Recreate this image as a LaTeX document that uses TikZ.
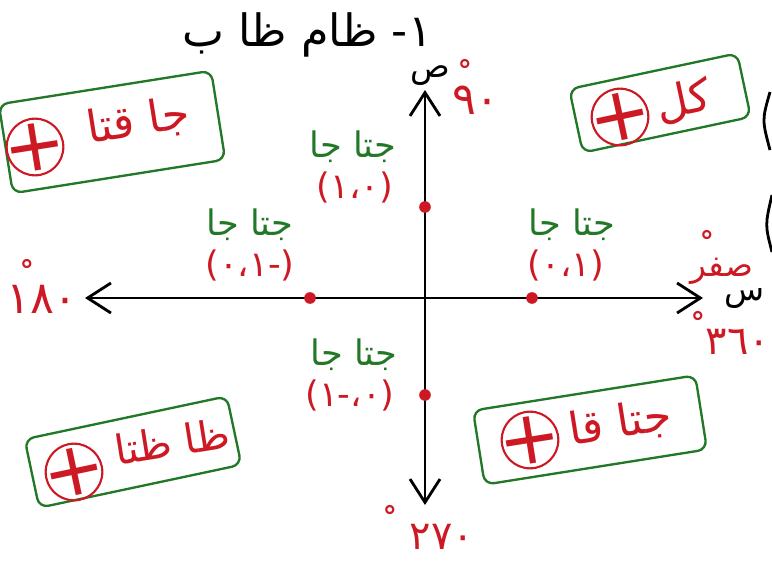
\documentclass[tikz,border=0pt]{standalone}
\usepackage{fontspec}
\newfontfamily\arabicfont[Script=Arabic]{DejaVu Sans}
\newfontfamily\numfont{DejaVu Sans}
\TeXXeTstate=1
\usetikzlibrary{arrows.meta,positioning}
\definecolor{markgreen}{RGB}{35,120,40}
\definecolor{markred}{RGB}{205,25,35}
\newcommand\gap{\kern0pt}
\newcommand\artext[1]{\beginR #1\endR}

\begin{document}
\begin{tikzpicture}[
    x=0.03cm, y=-0.03cm,
    axis/.style={line width=2.4pt, {Straight Barb[length=7mm,width=9mm]}-{Straight Barb[length=7mm,width=9mm]}},
    pt/.style={circle, fill=markred, inner sep=0pt, minimum size=3.5mm},
    fname/.style={text=markgreen, font=\arabicfont\fontsize{30}{34}\selectfont},
    pairval/.style={text=markred, font=\numfont\fontsize{30}{34}\selectfont},
    angle/.style={text=markred, font=\numfont\fontsize{38}{42}\selectfont},
    deg/.style={text=markred, inner sep=0pt, font=\numfont\bfseries\fontsize{24}{24}\selectfont},
    axname/.style={font=\arabicfont\fontsize{28}{32}\selectfont},
    quadbox/.style={draw=markgreen, line width=2pt, rounded corners=8pt},
    signtext/.style={text=markred, font=\arabicfont\fontsize{38}{42}\selectfont},
    plusmark/.style={circle, draw=markred, line width=1.8pt, inner sep=0pt, minimum size=1.7cm},
    plusglyph/.style={text=markred, inner sep=0pt, font=\numfont\fontsize{64}{64}\selectfont},
]
    \useasboundingbox (0,0) rectangle (772,563);

    % title
    \node[font=\arabicfont\fontsize{38}{42}\selectfont] (title) at (307,35) {\artext{١\gap -  ظام ظا ب}};

    % axes
    \coordinate (xneg) at (85,298);
    \coordinate (xpos) at (703,298);
    \coordinate (ypos) at (425,90);
    \coordinate (yneg) at (425,505);
    \draw[axis] (xneg) -- (xpos);
    \draw[axis] (yneg) -- (ypos);
    \node[axname] (sname) at (745,298) {\artext{س}};
    \node[axname] (yname) at (430,76) {\artext{ص}};

    % angles
    \node[angle] (n90) at (476,100) {٩٠};
    \node[deg] (d90) at (465,70) {°};
    \node[angle] (n180) at (42,299) {١٨٠};
    \node[deg] (d180) at (27,270) {°};
    \node[angle, font=\arabicfont\fontsize{28}{32}\selectfont] (n0) at (722,271) {\artext{صفر}};
    \node[deg] (d0) at (707,241) {°};
    \node[angle, font=\numfont\fontsize{34}{38}\selectfont] (n360) at (738,342) {٣٦٠};
    \node[deg] (d360) at (698,322) {°};
    \node[angle, font=\numfont\fontsize{34}{38}\selectfont] (n270) at (442,537) {٢٧٠};
    \node[deg] (d270) at (390,516) {°};

    % points on the circle
    \node[pt] (p90) at (425,207) {};
    \node[pt] (p180) at (310,298) {};
    \node[pt] (p0) at (532,298) {};
    \node[pt] (p270) at (425,395) {};

    \node[fname] (f90) at (353,147) {\artext{جتا جا}};
    \node[pairval] (v90) at (355,187) {(\gap ١\gap ،\gap ٠\gap )};
    \node[fname] (f180) at (250,225) {\artext{جتا جا}};
    \node[pairval] (v180) at (250,265) {(\gap ٠\gap ،\gap ١\gap -\gap )};
    \node[fname] (f0) at (572,225) {\artext{جتا جا}};
    \node[pairval] (v0) at (566,265) {(\gap ٠\gap ،\gap ١\gap )};
    \node[fname] (f270) at (354,355) {\artext{جتا جا}};
    \node[pairval] (v270) at (350,395) {(\gap ١\gap -\gap ،\gap ٠\gap )};

    % quadrant signs
    \node[quadbox, rotate=12, minimum width=5.15cm, minimum height=1.95cm] (q1box) at (660,103) {};
    \node[signtext, rotate=12] (q1txt) at (684,102) {\artext{كل}};
    \node[plusmark, label={[plusglyph, rotate=12]center:+}] (q1plus) at (620,117) {};

    \node[quadbox, rotate=9, minimum width=6.45cm, minimum height=2.7cm] (q2box) at (112,132) {};
    \node[signtext, rotate=9] (q2txt) at (138,122) {\artext{جا قتا}};
    \node[plusmark, label={[plusglyph, rotate=9]center:+}] (q2plus) at (35,147) {};

    \node[quadbox, rotate=12, minimum width=6.2cm, minimum height=2.1cm] (q3box) at (133,452) {};
    \node[signtext, rotate=9, font=\arabicfont\fontsize{35}{40}\selectfont] (q3txt) at (172,441) {\artext{ظا ظتا}};
    \node[plusmark, label={[plusglyph, rotate=12]center:+}] (q3plus) at (74,472) {};

    \node[quadbox, rotate=9, minimum width=6.75cm, minimum height=2.25cm] (q4box) at (590,430) {};
    \node[signtext, rotate=9] (q4txt) at (620,424) {\artext{جتا قا}};
    \node[plusmark, label={[plusglyph, rotate=9]center:+}] (q4plus) at (530,440) {};

    % board edge
    \draw[line width=2.4pt] (770,92) .. controls (762,120) .. (770,150);
    \draw[line width=2.4pt] (772,195) .. controls (765,225) .. (772,252);
\end{tikzpicture}
\end{document}
